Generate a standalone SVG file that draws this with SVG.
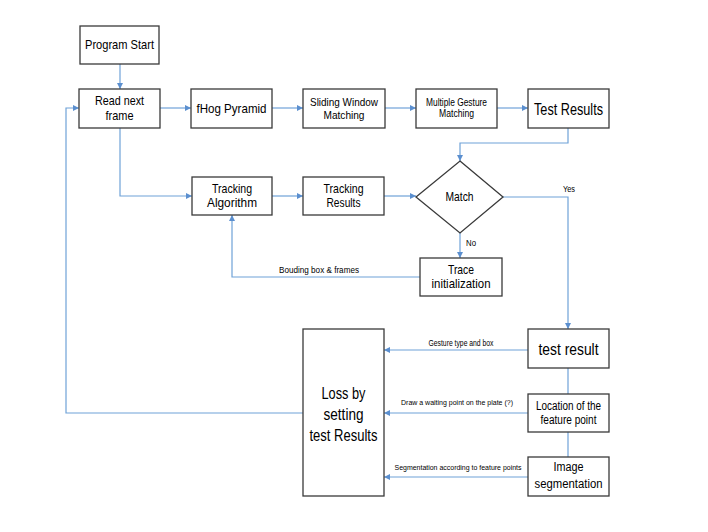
<svg xmlns="http://www.w3.org/2000/svg" width="708" height="532" viewBox="0 0 708 532">
<style>
.box{fill:#fff;stroke:#3a3a3a;stroke-width:1.3}
text{font-family:"Liberation Sans",Arial,sans-serif;fill:#000;text-anchor:middle}
.t{font-size:13px}
.t2{font-size:12px}
.tl{font-size:17px}
.ts{font-size:11.5px}
.tx{font-size:10px}
.lb{font-size:9px}
.lb8{font-size:8px}
.c{fill:none;stroke:#6fa2d8;stroke-width:1.2}
</style>
<defs>
<marker id="a" viewBox="0 0 6 6" refX="6" refY="3" markerWidth="6" markerHeight="6" markerUnits="userSpaceOnUse" orient="auto"><path d="M0,0 L6,3 L0,6 z" fill="#5b8fcf"/></marker>
</defs>
<rect width="708" height="532" fill="#fff"/>
<g id="connectors">
<path class="c" d="M120,64 V89" marker-end="url(#a)"/>
<path class="c" d="M160,108 H191" marker-end="url(#a)"/>
<path class="c" d="M272,108 H303" marker-end="url(#a)"/>
<path class="c" d="M385,108 H416" marker-end="url(#a)"/>
<path class="c" d="M497,108 H528" marker-end="url(#a)"/>
<path class="c" d="M568,128 V143 H460 V161" marker-end="url(#a)"/>
<path class="c" d="M120,128 V196 H192" marker-end="url(#a)"/>
<path class="c" d="M272,196 H303" marker-end="url(#a)"/>
<path class="c" d="M384,196 H416" marker-end="url(#a)"/>
<path class="c" d="M460,233 V258" marker-end="url(#a)"/>
<path class="c" d="M420,277 H232 V215" marker-end="url(#a)"/>
<path class="c" d="M503,197 H568 V329" marker-end="url(#a)"/>
<path class="c" d="M568,368 V394"/>
<path class="c" d="M568,432 V457"/>
<path class="c" d="M528,350 H384" marker-end="url(#a)"/>
<path class="c" d="M528,413 H384" marker-end="url(#a)"/>
<path class="c" d="M528,477 H384" marker-end="url(#a)"/>
<path class="c" d="M303,413 H66 V108 H79" marker-end="url(#a)"/>
<text class="lb" x="569" y="192" textLength="12" lengthAdjust="spacingAndGlyphs">Yes</text>
<text class="lb" x="471" y="246" textLength="10" lengthAdjust="spacingAndGlyphs">No</text>
<text class="lb" x="319" y="273" textLength="80" lengthAdjust="spacingAndGlyphs">Bouding box &amp; frames</text>
<text class="lb" x="461" y="346" textLength="65" lengthAdjust="spacingAndGlyphs">Gesture type and box</text>
<text class="lb8" x="457" y="405" textLength="112" lengthAdjust="spacingAndGlyphs">Draw a waiting point on the plate (?)</text>
<text class="lb8" x="458" y="470" textLength="127" lengthAdjust="spacingAndGlyphs">Segmentation according to feature points</text>
</g>
<g id="program-start"><rect class="box" x="80" y="26" width="79" height="38"/><text class="t" x="119.5" y="49" textLength="69" lengthAdjust="spacingAndGlyphs">Program Start</text></g>
<g id="read-next-frame"><rect class="box" x="79" y="89" width="81" height="39"/><text class="t" x="119.5" y="105" textLength="49" lengthAdjust="spacingAndGlyphs">Read next</text><text class="t" x="119.5" y="120" textLength="28" lengthAdjust="spacingAndGlyphs">frame</text></g>
<g id="fhog-pyramid"><rect class="box" x="191" y="89" width="81" height="39"/><text class="t" x="231.5" y="113" textLength="70" lengthAdjust="spacingAndGlyphs">fHog Pyramid</text></g>
<g id="sliding-window"><rect class="box" x="303" y="89" width="82" height="39"/><text class="ts" x="344" y="106" textLength="68" lengthAdjust="spacingAndGlyphs">Sliding Window</text><text class="ts" x="344" y="119" textLength="41" lengthAdjust="spacingAndGlyphs">Matching</text></g>
<g id="multiple-gesture"><rect class="box" x="416" y="89" width="81" height="39"/><text class="tx" x="456.5" y="106" textLength="61" lengthAdjust="spacingAndGlyphs">Multiple Gesture</text><text class="tx" x="456.5" y="117" textLength="35" lengthAdjust="spacingAndGlyphs">Matching</text></g>
<g id="test-results"><rect class="box" x="528" y="89" width="81" height="39"/><text class="tl" x="568.5" y="115" textLength="69" lengthAdjust="spacingAndGlyphs">Test Results</text></g>
<g id="tracking-algorithm"><rect class="box" x="192" y="177" width="80" height="38"/><text class="t" x="232" y="193" textLength="40" lengthAdjust="spacingAndGlyphs">Tracking</text><text class="t" x="232" y="207" textLength="50" lengthAdjust="spacingAndGlyphs">Algorithm</text></g>
<g id="tracking-results"><rect class="box" x="303" y="177" width="81" height="38"/><text class="t" x="343.5" y="193" textLength="40" lengthAdjust="spacingAndGlyphs">Tracking</text><text class="t" x="343.5" y="207" textLength="34" lengthAdjust="spacingAndGlyphs">Results</text></g>
<g id="match"><polygon class="box" points="460,161 503,197 460,233 416,197"/><text class="t" x="459.5" y="201" textLength="28" lengthAdjust="spacingAndGlyphs">Match</text></g>
<g id="trace-init"><rect class="box" x="420" y="258" width="82" height="38"/><text class="t" x="461" y="274" textLength="26" lengthAdjust="spacingAndGlyphs">Trace</text><text class="t" x="461" y="288" textLength="59" lengthAdjust="spacingAndGlyphs">initialization</text></g>
<g id="loss"><rect class="box" x="303" y="329" width="81" height="167"/><text class="tl" x="343.5" y="399" textLength="44" lengthAdjust="spacingAndGlyphs">Loss by</text><text class="tl" x="343.5" y="420" textLength="40" lengthAdjust="spacingAndGlyphs">setting</text><text class="tl" x="343.5" y="441" textLength="68" lengthAdjust="spacingAndGlyphs">test Results</text></g>
<g id="test-result"><rect class="box" x="528" y="329" width="81" height="39"/><text class="tl" x="568.5" y="355" textLength="60" lengthAdjust="spacingAndGlyphs">test result</text></g>
<g id="location"><rect class="box" x="528" y="394" width="81" height="38"/><text class="t2" x="568.5" y="410" textLength="65" lengthAdjust="spacingAndGlyphs">Location of the</text><text class="t2" x="568.5" y="424" textLength="56" lengthAdjust="spacingAndGlyphs">feature point</text></g>
<g id="image-seg"><rect class="box" x="528" y="457" width="81" height="39"/><text class="t2" x="568.5" y="471" textLength="30" lengthAdjust="spacingAndGlyphs">Image</text><text class="t2" x="568.5" y="488" textLength="68" lengthAdjust="spacingAndGlyphs">segmentation</text></g>
</svg>
